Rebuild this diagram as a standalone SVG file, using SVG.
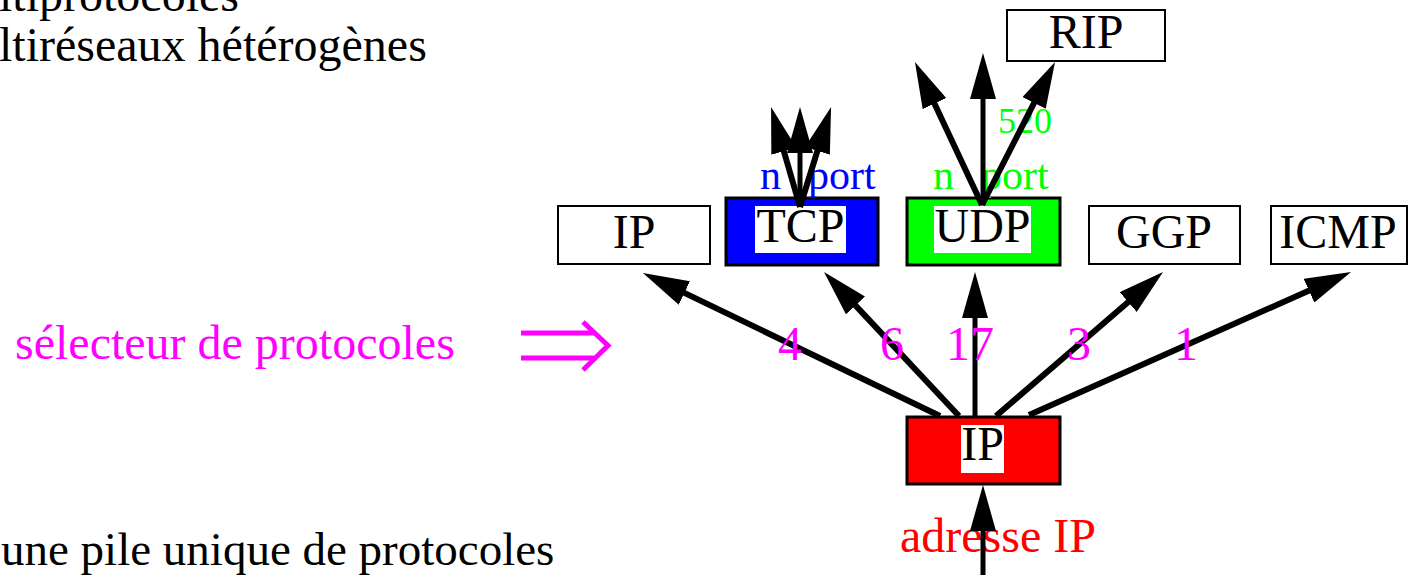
<svg xmlns="http://www.w3.org/2000/svg" width="1410" height="575" viewBox="0 0 1410 575">
<defs>
<style>
.t{font-family:"Liberation Serif","Times New Roman",serif;font-size:48px;fill:#000}
.c{text-anchor:middle}
.box{fill:#fff;stroke:#000;stroke-width:2}
.cbox{stroke:#000;stroke-width:3}
.inner{fill:#fff;stroke:none}
.ln{stroke:#000;stroke-width:6;fill:none;marker-end:url(#ah)}
.v{stroke-width:5}
.mag{fill:#ff00ff}
</style>
<marker id="ah" viewBox="0 -13 46 26" refX="7" refY="0" markerWidth="46" markerHeight="26" markerUnits="userSpaceOnUse" orient="auto">
<path d="M0,-13 L46,0 L0,13 z" fill="#000"/>
</marker>
</defs>
<rect width="1410" height="575" fill="#fff"/>

<g id="text-left">
<text class="t" x="-1" y="11">ltiprotocoles</text>
<text class="t" x="-1" y="61">ltiréseaux hétérogènes</text>
<text class="t mag" x="15" y="359">sélecteur de protocoles</text>
<text class="t" x="1" y="565" style="font-size:47px">une pile unique de protocoles</text>
</g>

<g id="implies" stroke="#ff00ff" stroke-width="5" fill="none">
<line x1="521" y1="333" x2="594" y2="333"/>
<line x1="521" y1="358" x2="594" y2="358"/>
<polyline points="583,322 608,345.5 583,370" stroke-linejoin="miter"/>
</g>

<g id="node-rip">
<rect class="box" x="1007" y="10" width="158" height="51"/>
<text class="t c" x="1086" y="48">RIP</text>
</g>

<g id="node-ip-top">
<rect class="box" x="558" y="206" width="152" height="58"/>
<text class="t c" x="634" y="248">IP</text>
</g>

<g id="node-tcp">
<rect class="cbox" x="726" y="198" width="152" height="67" fill="#0000ff"/>
<rect class="inner" x="755" y="206" width="91" height="47"/>
<text class="t c" x="800.5" y="242">TCP</text>
</g>

<g id="node-udp">
<rect class="cbox" x="907" y="198" width="153" height="67" fill="#00ff00"/>
<rect class="inner" x="934" y="206" width="97" height="47"/>
<text class="t c" x="982.5" y="242">UDP</text>
</g>

<g id="node-ggp">
<rect class="box" x="1089" y="206" width="151" height="58"/>
<text class="t c" x="1164" y="248">GGP</text>
</g>

<g id="node-icmp">
<rect class="box" x="1271" y="206" width="136" height="58"/>
<text class="t c" x="1338" y="248">ICMP</text>
</g>

<g id="node-ip">
<rect class="cbox" x="907" y="417" width="153" height="67" fill="#ff0000"/>
<rect class="inner" x="961" y="425" width="43" height="48"/>
<text class="t c" x="982.5" y="460">IP</text>
</g>

<g id="labels">
<text class="t" x="760" y="189" style="font-size:42px;fill:#0000ff">n <tspan x="808">port</tspan></text>
<text class="t" x="933" y="189" style="font-size:42px;fill:#00ff00">n <tspan x="981">port</tspan></text>
<text class="t" x="998" y="133" style="font-size:36px;fill:#00ff00">520</text>
<text class="t" x="900" y="552" style="fill:#ff0000">adresse IP</text>
</g>

<g id="connectors">
<line class="ln" x1="940" y1="416" x2="678.1" y2="289.9"/>
<line class="ln" x1="959" y1="416" x2="850.7" y2="300.4"/>
<line class="ln v" x1="975" y1="416" x2="975" y2="311"/>
<line class="ln" x1="996" y1="416" x2="1133.5" y2="297.5"/>
<line class="ln" x1="1029" y1="415" x2="1315.4" y2="287.8"/>
<line class="ln v" x1="983" y1="580" x2="983" y2="524"/>
<line class="ln" x1="800" y1="207" x2="781.9" y2="144.5"/>
<line class="ln v" x1="800" y1="207" x2="800" y2="146"/>
<line class="ln" x1="800" y1="207" x2="819.5" y2="144.2"/>
<line class="ln" x1="982" y1="205" x2="931.5" y2="97.3"/>
<line class="ln v" x1="983" y1="205" x2="983" y2="92"/>
<line class="ln" x1="982" y1="205" x2="1037.3" y2="96.7"/>
</g>

<g id="proto-numbers">
<text class="t mag" x="778" y="360">4</text>
<text class="t mag" x="880" y="360">6</text>
<text class="t mag" x="946" y="360">17</text>
<text class="t mag" x="1067" y="360">3</text>
<text class="t mag" x="1174" y="360">1</text>
</g>
</svg>
